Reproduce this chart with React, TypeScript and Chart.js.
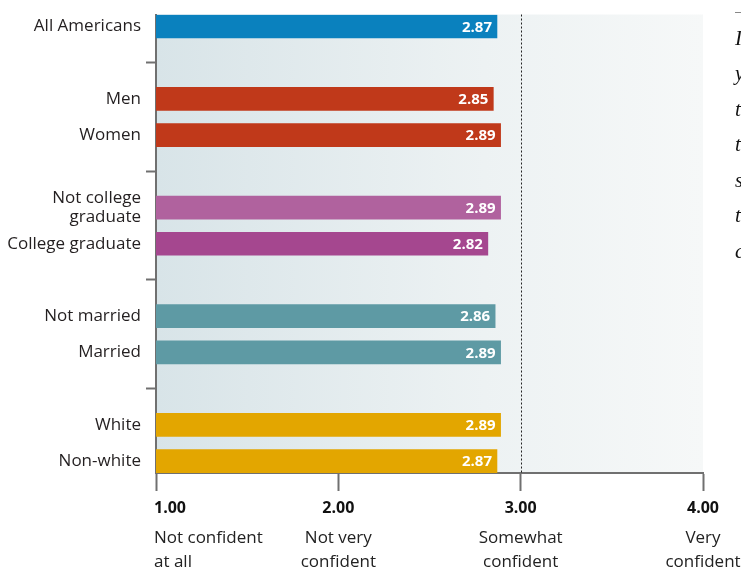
import React, { useEffect, useRef } from 'react';
import { Chart, registerables } from 'chart.js';

Chart.register(...registerables);

// ---- data ----
const categories: (string | string[])[] = [
  'All Americans',
  'Men',
  'Women',
  ['Not college', 'graduate'],
  'College graduate',
  'Not married',
  'Married',
  'White',
  'Non-white',
];
const groups = [0, 1, 1, 2, 2, 3, 3, 4, 4];
const values = [2.87, 2.85, 2.89, 2.89, 2.82, 2.86, 2.89, 2.89, 2.87];
const barColors = [
  '#0a81be',
  '#c0391a',
  '#c0391a',
  '#b0629e',
  '#a5478f',
  '#5e9aa4',
  '#5e9aa4',
  '#e3a600',
  '#e3a600',
];
const xTickValues = [1, 2, 3, 4];
const xTickNumbers = ['1.00', '2.00', '3.00', '4.00'];
const xTickDescriptions = [
  ['Not confident', 'at all'],
  ['Not very', 'confident'],
  ['Somewhat', 'confident'],
  ['Very', 'confident'],
];
const referenceValue = 3;
const sideLetters = ['I', 'y', 't', 't', 's', 't', 'c'];

const FONT = '"Open Sans", "DejaVu Sans", sans-serif';
const AXIS = '#707070';

export default function App() {
  const ref = useRef<HTMLCanvasElement>(null);

  useEffect(() => {
    if (!ref.current) return;
    const rows = categories.map((_, i) => i + groups[i]);
    const rowCount = rows[rows.length - 1] + 1;
    const rowLabels: (string | string[])[] = Array(rowCount).fill('');
    rows.forEach((r, i) => (rowLabels[r] = categories[i]));
    const separatorRows = rowLabels
      .map((l, i) => (l === '' ? i : -1))
      .filter((i) => i >= 0);

    const drawPlugin = {
      id: 'custom',
      beforeDraw(chart: any) {
        const { ctx, chartArea: a } = chart;
        const g = ctx.createLinearGradient(a.left, 0, a.right, 0);
        g.addColorStop(0, '#d8e4e8');
        g.addColorStop(0.6, '#edf2f3');
        g.addColorStop(1, '#f6f8f8');
        ctx.save();
        ctx.fillStyle = g;
        ctx.fillRect(a.left, a.top, a.right - a.left, a.bottom - a.top);
        ctx.restore();
      },
      beforeDatasetsDraw(chart: any) {
        const { ctx, chartArea: a } = chart;
        const x = Math.round(chart.scales.x.getPixelForValue(referenceValue)) + 0.5;
        ctx.save();
        ctx.strokeStyle = '#222';
        ctx.lineWidth = 1;
        ctx.setLineDash([2, 2]);
        ctx.beginPath();
        ctx.moveTo(x, a.top);
        ctx.lineTo(x, a.bottom);
        ctx.stroke();
        ctx.restore();
      },
      afterDatasetsDraw(chart: any) {
        const { ctx } = chart;
        const meta = chart.getDatasetMeta(0);
        ctx.save();
        ctx.fillStyle = '#ffffff';
        ctx.font = `bold 15px ${FONT}`;
        ctx.textAlign = 'right';
        ctx.textBaseline = 'middle';
        meta.data.forEach((bar: any, i: number) => {
          ctx.fillText(values[i].toFixed(2), bar.x - 5, bar.y + 1);
        });
        ctx.restore();
      },
      afterDraw(chart: any) {
        const { ctx, chartArea: a } = chart;
        const xs = chart.scales.x;
        ctx.save();
        ctx.textBaseline = 'middle';
        xTickValues.forEach((v, i) => {
          const px = xs.getPixelForValue(v);
          const first = i === 0;
          ctx.textAlign = first ? 'left' : 'center';
          const tx = first ? px - 2 : px;
          ctx.fillStyle = '#111';
          ctx.font = `bold 16px ${FONT}`;
          ctx.fillText(xTickNumbers[i], tx, a.bottom + 35);
          ctx.fillStyle = '#222';
          ctx.font = `17px ${FONT}`;
          xTickDescriptions[i].forEach((line, j) => {
            ctx.fillText(line, tx, a.bottom + 65 + j * 24);
          });
        });
        ctx.restore();
      },
    };

    const chart = new Chart(ref.current, {
      type: 'bar',
      data: {
        datasets: [
          {
            data: values.map((v, i) => ({ x: v, y: rows[i] })),
            backgroundColor: barColors,
            barThickness: 23,
            borderWidth: 0,
          } as any,
        ],
      },
      options: {
        indexAxis: 'y',
        responsive: false,
        animation: false,
        layout: { padding: { top: 12, right: 38, left: 0, bottom: 0 } },
        plugins: {
          legend: { display: false },
          tooltip: { enabled: false },
        },
        scales: {
          x: {
            type: 'linear',
            position: 'bottom',
            bounds: 'data',
            offset: false,
            min: 1,
            max: 4,
            afterBuildTicks: (s: any) => {
              s.ticks = xTickValues.map((v) => ({ value: v }));
            },
            ticks: { display: false },
            grid: {
              display: true,
              offset: false,
              drawOnChartArea: false,
              drawTicks: true,
              tickLength: 18,
              tickWidth: 2,
              tickColor: AXIS,
            },
            border: { display: true, color: AXIS, width: 2 },
            afterFit: (s: any) => {
              s.height = 98;
            },
          },
          y: {
            type: 'linear',
            reverse: true,
            bounds: 'data',
            offset: false,
            min: -0.33,
            max: rowCount - 1 + 0.33,
            afterBuildTicks: (s: any) => {
              s.ticks = rowLabels.map((_, i) => ({ value: i }));
            },
            ticks: {
              autoSkip: false,
              padding: 5,
              color: '#231f20',
              font: { family: FONT, size: 17, lineHeight: 1.12 },
              callback: (v: any) => rowLabels[v] as any,
            },
            grid: {
              display: true,
              offset: false,
              drawOnChartArea: false,
              drawTicks: true,
              tickLength: 10,
              tickWidth: 2,
              tickColor: (ctx: any) =>
                ctx.tick && separatorRows.includes(ctx.tick.value) ? AXIS : 'rgba(0,0,0,0)',
            },
            border: { display: true, color: AXIS, width: 2 },
            afterFit: (s: any) => {
              s.width = 156;
            },
          },
        },
      } as any,
      plugins: [drawPlugin],
    });
    return () => chart.destroy();
  }, []);

  return (
    <div
      style={{
        position: 'fixed',
        left: 0,
        top: 0,
        width: 741,
        height: 571,
        overflow: 'hidden',
        background: '#fff',
      }}
    >
      <canvas ref={ref} width={741} height={571} style={{ width: 741, height: 571, display: 'block' }} />
      <div
        style={{
          position: 'absolute',
          left: 735,
          top: 12,
          width: 20,
          borderTop: '1px solid #888',
        }}
      />
      <div
        style={{
          position: 'absolute',
          left: 735,
          top: 20.5,
          fontFamily: '"Liberation Serif", "DejaVu Serif", serif',
          fontStyle: 'italic',
          fontSize: 21,
          lineHeight: '35.5px',
          color: '#111',
        }}
      >
        {sideLetters.map((l, i) => (
          <div key={i}>{l}</div>
        ))}
      </div>
    </div>
  );
}
